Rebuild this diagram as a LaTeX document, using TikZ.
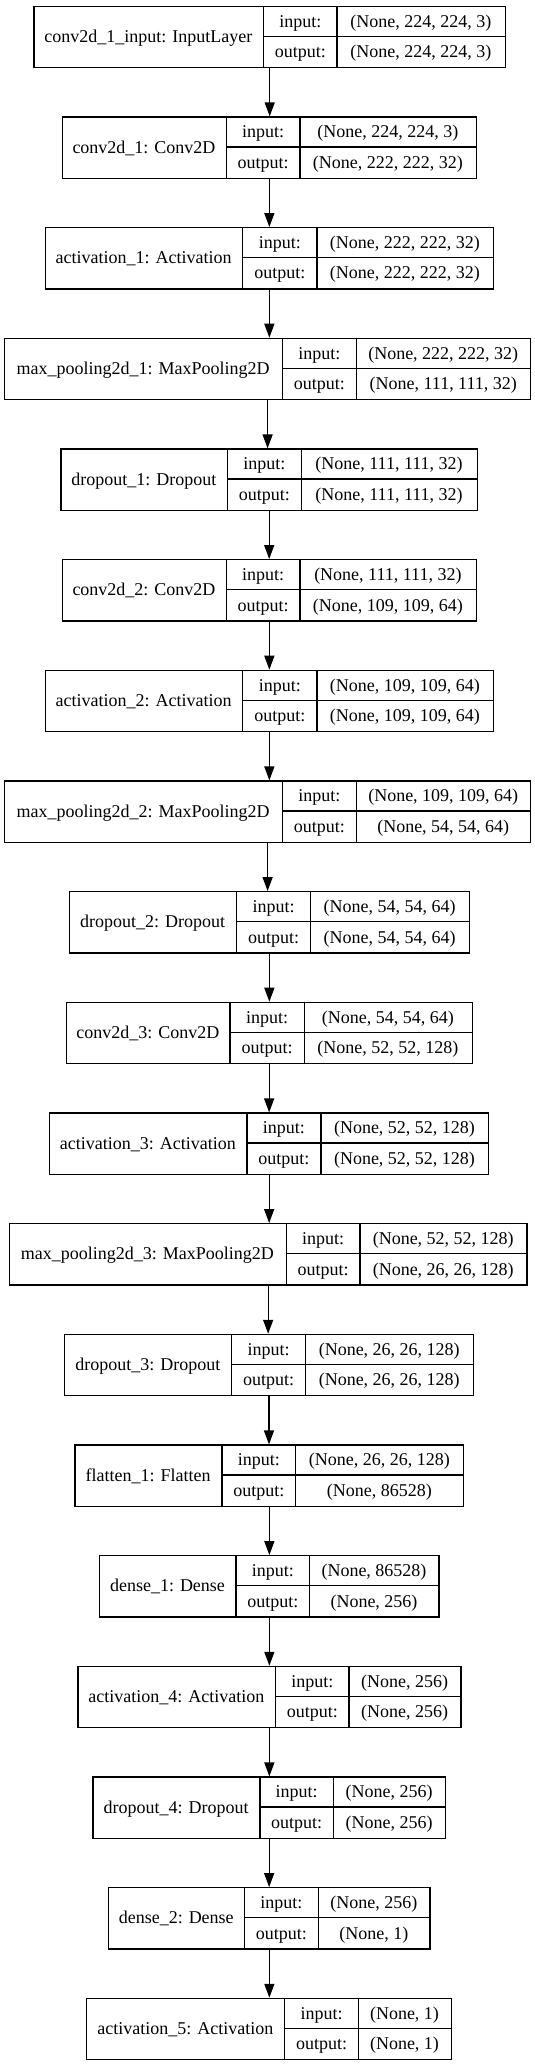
\documentclass[tikz,border=0pt]{standalone}
\usepackage{fontspec}
\setmainfont{Liberation Serif}
\usetikzlibrary{arrows.meta}

\begin{document}
\begin{tikzpicture}[x=1pt,y=-1pt,line width=1.3pt,>={Triangle[length=14pt,width=10pt]},
  cell/.style={inner sep=0pt,anchor=base,font=\fontsize{18}{20}\selectfont},
  layerbox/.style={draw,inner sep=0pt,anchor=north west,minimum height=61.3pt}]
  \useasboundingbox (0,0) rectangle (535,2065);
  % capas: indice / izquierda / div1 / div2 / derecha / nombre / entrada / salida
  \foreach \i/\l/\a/\b/\r/\nm/\inp/\outp in {
    1/33.3/263.4/337.1/504.8/{conv2d\_1\_input: InputLayer}/{(None, 224, 224, 3)}/{(None, 224, 224, 3)},
    2/61.7/226.3/300.1/475.7/{conv2d\_1: Conv2D}/{(None, 224, 224, 3)}/{(None, 222, 222, 32)},
    3/44.6/242.8/316.9/492.8/{activation\_1: Activation}/{(None, 222, 222, 32)}/{(None, 222, 222, 32)},
    4/4.1/282.2/356.7/529.8/{max\_pooling2d\_1: MaxPooling2D}/{(None, 222, 222, 32)}/{(None, 111, 111, 32)},
    5/60.4/227.4/301.4/476.7/{dropout\_1: Dropout}/{(None, 111, 111, 32)}/{(None, 111, 111, 32)},
    6/61.7/226.3/300.1/475.7/{conv2d\_2: Conv2D}/{(None, 111, 111, 32)}/{(None, 109, 109, 64)},
    7/44.6/242.8/316.9/492.8/{activation\_2: Activation}/{(None, 109, 109, 64)}/{(None, 109, 109, 64)},
    8/4.1/282.2/356.7/529.8/{max\_pooling2d\_2: MaxPooling2D}/{(None, 109, 109, 64)}/{(None, 54, 54, 64)},
    9/68.6/236.6/310.4/468.8/{dropout\_2: Dropout}/{(None, 54, 54, 64)}/{(None, 54, 54, 64)},
    10/65.5/230.1/304.2/471.5/{conv2d\_3: Conv2D}/{(None, 54, 54, 64)}/{(None, 52, 52, 128)},
    11/49/246.9/321/488/{activation\_3: Activation}/{(None, 52, 52, 128)}/{(None, 52, 52, 128)},
    12/8.6/286.3/360.1/526.4/{max\_pooling2d\_3: MaxPooling2D}/{(None, 52, 52, 128)}/{(None, 26, 26, 128)},
    13/63.8/231.8/305.6/472.9/{dropout\_3: Dropout}/{(None, 26, 26, 128)}/{(None, 26, 26, 128)},
    14/74.4/221.9/295.6/463/{flatten\_1: Flatten}/{(None, 26, 26, 128)}/{(None, 86528)},
    15/99.1/235.9/309.7/438.3/{dense\_1: Dense}/{(None, 86528)}/{(None, 256)},
    16/77.2/275.4/349.1/460.2/{activation\_4: Activation}/{(None, 256)}/{(None, 256)},
    17/92.2/259.9/333.3/444.8/{dropout\_4: Dropout}/{(None, 256)}/{(None, 256)},
    18/108/244.5/318.2/429.4/{dense\_2: Dense}/{(None, 256)}/{(None, 1)},
    19/86.1/284.6/358.4/450.6/{activation\_5: Activation}/{(None, 1)}/{(None, 1)}}{
    \pgfmathsetmacro\ytop{5.7+110.67*(\i-1)}
    \pgfmathsetmacro\ymid{\ytop+30.65}
    \pgfmathsetmacro\ybot{\ytop+61.3}
    \pgfmathsetmacro\boxw{\r-\l}
    \node[layerbox,minimum width=\boxw pt] (l\i) at (\l,\ytop) {};
    \draw (\a,\ytop) -- (\a,\ybot) (\b,\ytop) -- (\b,\ybot) (\a,\ymid) -- (\r,\ymid);
    \node[cell] (l\i-name) at ({(\l+\a)/2},{\ymid+6}) {\nm};
    \node[cell] (l\i-ilab) at ({(\a+\b)/2},{\ytop+21.3}) {input:};
    \node[cell] (l\i-olab) at ({(\a+\b)/2},{\ymid+21.3}) {output:};
    \node[cell] (l\i-in) at ({(\b+\r)/2},{\ytop+21.3}) {\inp};
    \node[cell] (l\i-out) at ({(\b+\r)/2},{\ymid+21.3}) {\outp};
  }
  % flechas entre capas
  \foreach \i [evaluate=\i as \j using int(\i+1)] in {1,...,18}
    \draw[->] (l\i.south) -- (l\i.south |- l\j.north);
\end{tikzpicture}
\end{document}
